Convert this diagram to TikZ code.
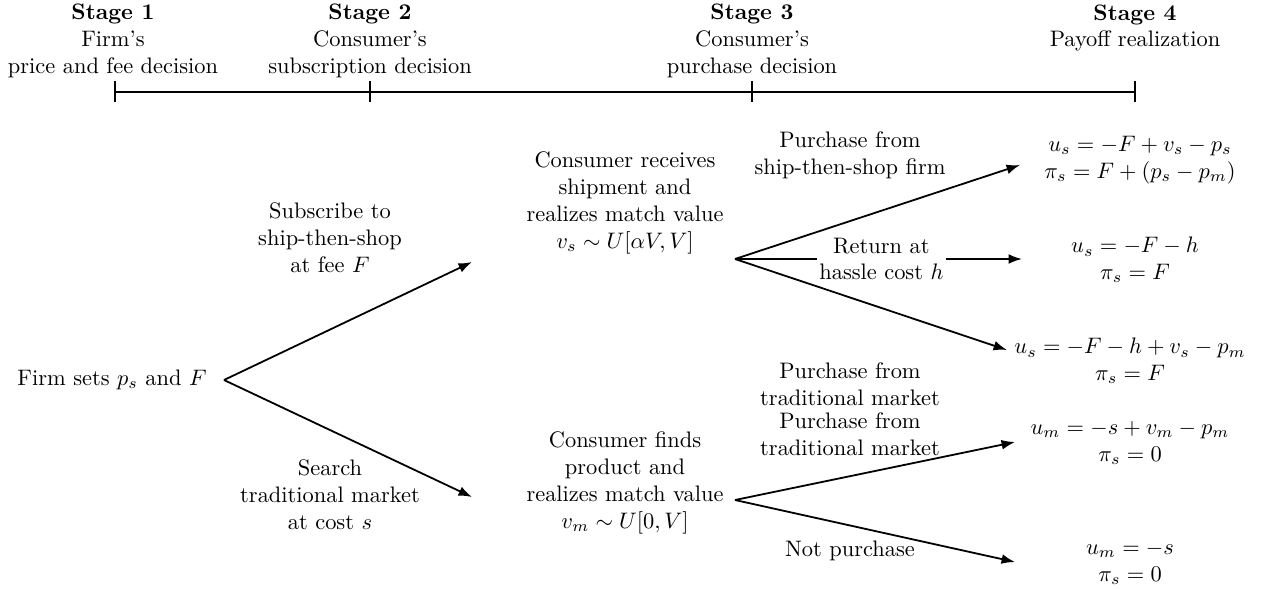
\documentclass[tikz,border=0pt]{standalone}
\usetikzlibrary{arrows.meta}
\begin{document}
\begin{tikzpicture}[x=0.446pt,y=-0.446pt,
  txt/.style={align=center, inner sep=0pt},
  arr/.style={line width=0.8pt, -{Latex[length=6pt,width=4.4pt]}},
  ln/.style={line width=0.8pt},
  lbl/.style={align=center, inner sep=1pt, fill=white}]
\useasboundingbox (0,0) rectangle (1265,588);
% timeline
\coordinate (t1) at (115,92);
\coordinate (t2) at (370,92);
\coordinate (t3) at (752,92);
\coordinate (t4) at (1135,92);
\draw[ln] (t1) -- (t2) -- (t3) -- (t4);
\foreach \t in {t1,t2,t3,t4}{\draw[ln] (\t) ++(0,-11) -- ++(0,21);}
\node[txt] (st1) at (113,41) {\textbf{Stage 1}\\Firm's\\price and fee decision};
\node[txt] (st2) at (370,41) {\textbf{Stage 2}\\Consumer's\\subscription decision};
\node[txt] (st3) at (752,41) {\textbf{Stage 3}\\Consumer's\\purchase decision};
\node[txt, anchor=north] (st4) at (1135,4) {\textbf{Stage 4}\\Payoff realization};
% tree nodes
\node[txt, anchor=east] (root) at (207,380) {Firm sets $p_s$ and $F$};
\node[txt] (m1) at (625,203) {Consumer receives\\shipment and\\realizes match value\\$v_s\sim U[\alpha V,V]$};
\node[txt] (m2) at (625,483) {Consumer finds\\product and\\realizes match value\\$v_m\sim U[0,V]$};
\node[txt] (p1) at (1140,160) {$u_s=-F+v_s-p_s$\\$\pi_s=F+(p_s-p_m)$};
\node[txt] (p2) at (1135,260) {$u_s=-F-h$\\$\pi_s=F$};
\node[txt] (p3) at (1130,361) {$u_s=-F-h+v_s-p_m$\\$\pi_s=F$};
\node[txt] (p4) at (1130,443) {$u_m=-s+v_m-p_m$\\$\pi_s=0$};
\node[txt] (p5) at (1130,563) {$u_m=-s$\\$\pi_s=0$};
% fork points and arrow tips
\coordinate (f0) at (224,380);
\coordinate (f1) at (735,259);
\coordinate (f2) at (735,500);
\coordinate (a1) at (472,262);
\coordinate (a2) at (472,497);
\coordinate (b1) at (1020,165);
\coordinate (b2) at (1022,259);
\coordinate (b3) at (1007,350);
\coordinate (b4) at (1015,442);
\coordinate (b5) at (1015,562);
% connectors
\draw[arr] (f0) -- (a1);
\draw[arr] (f0) -- (a2);
\draw[arr] (f1) -- (b1);
\draw[arr] (f1) -- (b2) node[lbl, pos=0.51] (l2) {Return at\\hassle cost $h$};
\draw[arr] (f1) -- (b3);
\draw[arr] (f2) -- (b4);
\draw[arr] (f2) -- (b5);
% labels
\node[txt] (la) at (330,238) {Subscribe to\\ship-then-shop\\at fee $F$};
\node[txt] (lb) at (330,495) {Search\\traditional market\\at cost $s$};
\node[txt] (l1) at (850,155) {Purchase from\\ship-then-shop firm};
\node[txt] (l3) at (850,384) {Purchase from\\traditional market};
\node[txt] (l4) at (850,434) {Purchase from\\traditional market};
\node[txt] (l5) at (850,551) {Not purchase};
\end{tikzpicture}
\end{document}
